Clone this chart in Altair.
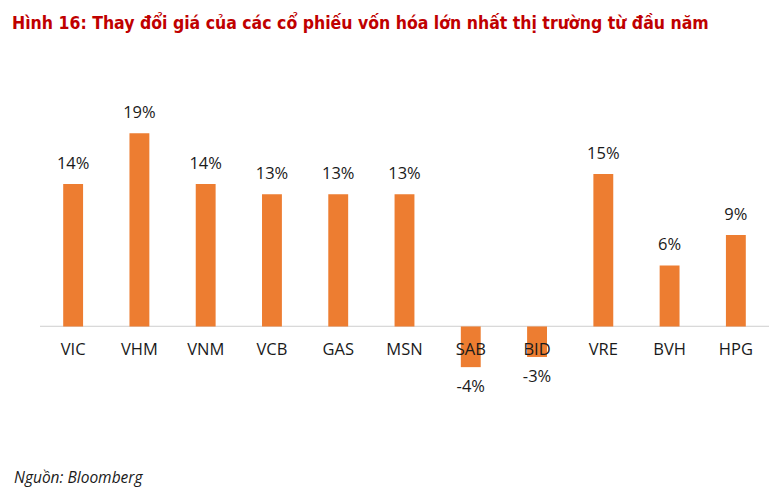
import altair as alt
import pandas as pd

tickers = ["VIC", "VHM", "VNM", "VCB", "GAS", "MSN", "SAB", "BID", "VRE", "BVH", "HPG"]
changes = [14, 19, 14, 13, 13, 13, -4, -3, 15, 6, 9]

title_text = "Hình 16: Thay đổi giá của các cổ phiếu vốn hóa lớn nhất thị trường từ đầu năm"
source_text = "Nguồn: Bloomberg"

df = pd.DataFrame({"ticker": tickers, "change": changes})

W, H = 729, 356
x = alt.X("ticker:N", sort=tickers, axis=None,
          scale=alt.Scale(paddingInner=0.7, paddingOuter=0.35))
yscale = alt.Scale(domain=[-9, 26], nice=False, zero=False)

base = alt.Chart(df).transform_calculate(
    label="datum.change + '%'", zero="0"
)

rule = alt.Chart(df).mark_rule(color="#d9d9d9", strokeWidth=1).encode(
    y=alt.Y(datum=0, scale=yscale, axis=None)
)

bars = base.mark_bar(color="#ED7D31").encode(
    x=x,
    y=alt.Y("change:Q", scale=yscale, axis=None),
    y2=alt.Y2(datum=0),
)

txt = dict(font="Open Sans", fontSize=16.5, color="#1a1a1a", baseline="middle")

pos_labels = base.transform_filter("datum.change >= 0").mark_text(
    dy=-20, **txt
).encode(x=x, y=alt.Y("change:Q", scale=yscale), text="label:N")

neg_labels = base.transform_filter("datum.change < 0").mark_text(
    dy=20, **txt
).encode(x=x, y=alt.Y("change:Q", scale=yscale), text="label:N")

cat_labels = base.mark_text(dy=24, **txt).encode(
    x=x, y=alt.Y("zero:Q", scale=yscale), text="ticker:N"
)

source = alt.Chart(pd.DataFrame({"t": [source_text]})).mark_text(
    font="Open Sans", fontSize=15.5, fontStyle="italic", color="#1a1a1a",
    align="left", baseline="middle"
).encode(x=alt.value(-26), y=alt.value(416), text="t:N")

chart = alt.layer(rule, bars, pos_labels, neg_labels, cat_labels, source).properties(
    width=W,
    height=H,
    title=alt.TitleParams(
        text=title_text, anchor="start", frame="group", dx=-28, offset=30,
        font="DejaVu Sans Condensed", fontSize=17.5, fontWeight="bold", color="#C00000"
    ),
    autosize=alt.AutoSizeParams(type="none"),
    padding={"left": 32, "top": 54, "right": 6, "bottom": 70},
).configure_view(stroke=None)

chart.save("out.html", embed_options={"renderer": "svg", "actions": False})
